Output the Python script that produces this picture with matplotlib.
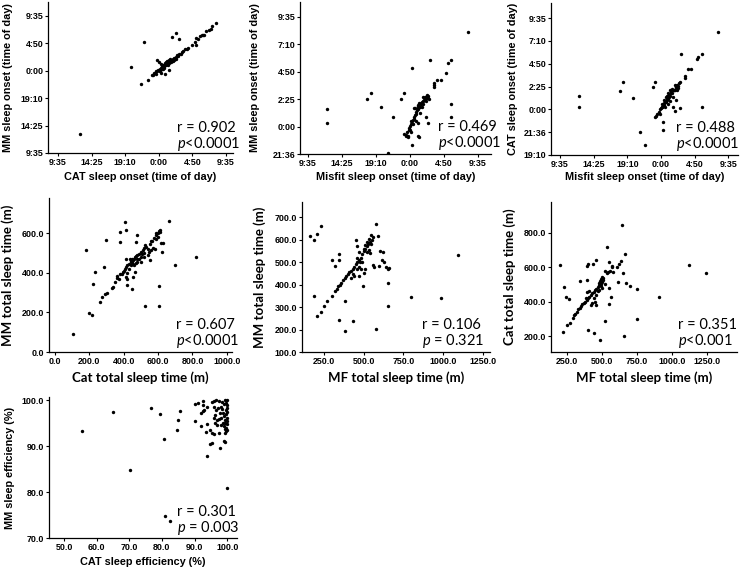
import matplotlib
matplotlib.use('Agg')
import matplotlib.pyplot as plt

plt.rcParams['font.family'] = ['Liberation Sans', 'DejaVu Sans']
plt.rcParams['mathtext.fontset'] = 'custom'
plt.rcParams['mathtext.it'] = 'Lato:italic'
plt.rcParams['mathtext.rm'] = 'Lato'

# ---- data (sleep onset in hours relative to midnight) ----
onset_ticks_24 = [-14.4, -9.6, -4.8, 0, 4.8, 9.6]
onset_labels_24 = ['9:35', '14:25', '19:10', '0:00', '4:50', '9:35']
onset_ticks_mm2 = [-2.4, 0, 2.4, 4.8, 7.2, 9.6]
onset_labels_mm2 = ['21:36', '0:00', '2:25', '4:50', '7:10', '9:35']
onset_ticks_cat3 = [-4.8, -2.4, 0, 2.4, 4.8, 7.2, 9.6]
onset_labels_cat3 = ['19:10', '21:36', '0:00', '2:25', '4:50', '7:10', '9:35']

cat_vs_mm_onset = [
    (-11.2, -11.1), (-4.0, 0.7), (-2.57, -2.3), (-2.1, 5.1), (-1.52, -1.58), (-1.0, -0.75),
    (-0.7, -0.45), (-0.5, -0.4), (-0.33, -0.12), (-0.2, -0.05), (-0.1, 0.1), (0.0, 0.2),
    (0.1, 0.05), (0.15, 0.35), (0.25, 0.3), (0.3, 0.5), (0.4, 0.45), (0.5, 0.6), (0.55, 0.4),
    (0.65, 0.75), (0.7, 0.9), (0.8, 0.8), (0.9, 1.0), (0.95, 1.15), (1.05, 0.95), (1.1, 1.2),
    (1.2, 1.35), (1.25, 1.1), (1.33, 1.46), (1.4, 1.3), (1.5, 1.6), (1.55, 1.8), (1.6, 1.5),
    (1.7, 1.75), (1.75, 1.95), (1.8, 1.6), (1.9, 1.9), (2.0, 2.05), (2.05, 1.8), (2.15, 2.2),
    (2.3, 2.3), (2.4, 2.1), (2.5, 2.5), (2.6, 2.7), (2.75, 2.6), (2.9, 2.9), (3.1, 3.0),
    (3.3, 3.3), (3.5, 3.45), (3.71, 3.8), (4.0, 3.9), (4.2, 4.05), (4.8, 4.6), (5.14, 5.13),
    (5.3, 4.5), (5.38, 5.71), (5.6, 5.5), (5.86, 6.1), (6.1, 6.2), (6.33, 6.3), (6.45, 6.35),
    (6.81, 6.9), (7.1, 7.1), (7.4, 7.4), (7.62, 7.77), (8.24, 8.34), (1.9, 5.9), (2.5, 6.6),
    (2.86, 5.55), (-0.19, 1.95), (0.0, 1.5), (0.29, 1.2), (0.38, -0.4), (0.95, -0.52),
    (1.43, 0.18), (1.1, 1.7), (1.3, 1.75), (1.6, 2.0), (0.6, 1.0), (0.85, 1.3), (0.45, 0.9),
    (-0.45, -0.6), (-0.8, -0.7), (0.2, 0.0), (1.0, 1.5), (1.45, 1.9), (2.2, 1.9), (0.75, 0.5),
]

misfit_vs_mm_onset = [
    (-11.7, 1.5), (-11.7, 0.3), (-6.0, 2.45), (-5.5, 2.9), (-4.1, 1.75), (-3.15, -2.35),
    (-2.4, 0.8), (-1.2, 2.45), (-0.9, 2.9), (0.25, 5.1), (2.85, 5.85), (5.3, 5.6), (5.8, 5.85),
    (5.1, 4.65), (8.15, 8.25), (5.8, 1.95), (5.8, 0.8), (0.25, -1.6), (1.1, -0.85), (1.3, -0.95),
    (2.6, 0.3), (2.25, 0.8), (-0.55, -0.8), (-0.8, -0.65), (-0.35, -0.95), (1.1, 0.3), (1.1, 1.8),
    (3.35, 3.85), (3.45, 3.65), (3.8, 4.1), (4.4, 4.1), (3.35, 3.5),
    (-0.6, -0.7), (-0.4, -0.5), (-0.2, -0.3), (-0.1, -0.1), (0.0, 0.05), (0.1, 0.2), (0.2, 0.45),
    (0.3, 0.3), (0.4, 0.6), (0.5, 0.8), (0.6, 0.7), (0.7, 1.0), (0.8, 1.25), (0.9, 1.1),
    (1.0, 1.45), (1.1, 1.6), (1.2, 1.5), (1.3, 1.8), (1.4, 1.7), (1.5, 1.95), (1.6, 2.05),
    (1.7, 2.15), (1.8, 2.25), (1.9, 2.0), (2.0, 2.35), (2.1, 2.45), (2.2, 2.2), (2.3, 2.55),
    (2.4, 2.5), (2.5, 2.65), (2.6, 2.5), (2.7, 2.45), (1.4, 1.2), (0.9, 0.5), (0.2, -0.5),
    (-0.3, -0.8), (0.6, 1.6), (1.15, 1.9), (1.65, 1.75), (2.05, 2.6), (2.4, 2.75), (0.45, 0.2),
    (0.75, 1.6), (1.85, 2.55), (0.0, -0.3), (1.25, 2.1),
]

misfit_vs_cat_onset = [
    (-11.7, 1.45), (-11.7, 0.3), (-5.9, 1.95), (-5.45, 2.9), (-4.05, 1.25), (-3.0, -2.4),
    (-2.3, -3.8), (-1.15, 2.4), (-0.9, 2.9), (0.3, -1.35), (0.3, -2.15), (2.85, 5.8),
    (5.1, 5.35), (5.35, 5.55), (5.85, 5.8), (8.2, 8.15), (5.85, 0.3), (2.65, 0.1), (1.75, 0.3),
    (1.95, -0.2), (2.2, 1.0), (3.4, 3.5), (3.5, 3.35), (3.85, 4.3), (4.35, 4.3), (2.55, 2.75),
    (2.7, 2.9),
    (-0.9, -0.85), (-0.7, -0.7), (-0.5, -0.5), (-0.3, -0.3), (-0.2, -0.45), (-0.1, 0.0),
    (0.0, 0.15), (0.1, 0.3), (0.2, 0.25), (0.3, 0.5), (0.4, 0.45), (0.5, 0.7), (0.6, 0.85),
    (0.7, 0.75), (0.8, 1.0), (0.9, 1.15), (1.0, 1.1), (1.1, 1.35), (1.2, 1.5), (1.3, 1.4),
    (1.4, 1.7), (1.5, 1.85), (1.6, 1.75), (1.7, 2.0), (1.8, 2.0), (1.9, 2.05), (2.0, 2.0),
    (2.1, 2.35), (2.2, 2.4), (2.3, 2.6), (2.4, 2.5), (1.0, 0.6), (1.25, 0.9), (0.7, 1.3),
    (1.55, 2.1), (1.95, 2.6), (0.1, 0.55), (0.45, 0.95), (2.25, 2.05), (1.35, 2.0),
    (0.85, 1.45), (1.65, 1.35), (0.55, 0.3), (1.05, 1.7), (2.5, 2.3),
]

# ---- total sleep time (minutes) ----
cat_vs_mm_tst = [
    (102, 93), (180, 516), (199, 199), (214, 186), (222, 341), (232, 404), (286, 431),
    (296, 563), (261, 250), (276, 276), (292, 294), (303, 299), (329, 325), (338, 330),
    (348, 355), (361, 372), (372, 370), (378, 392), (381, 604), (377, 553), (406, 654),
    (415, 614), (412, 468), (415, 377), (419, 367), (421, 338), (448, 318), (454, 380),
    (464, 406), (470, 553), (477, 592), (526, 232), (605, 335), (605, 233), (696, 440),
    (821, 478), (661, 663), (605, 609), (613, 617), (590, 600), (585, 570), (560, 558),
    (570, 524), (622, 507), (618, 549), (600, 580), (630, 550),
    (390, 395), (400, 410), (410, 420), (415, 430), (420, 440), (430, 445), (440, 455),
    (445, 460), (450, 452), (455, 465), (460, 470), (465, 478), (470, 485), (480, 490),
    (490, 495), (500, 505), (510, 515), (520, 525), (530, 530), (540, 520), (550, 545),
    (565, 560), (575, 575), (590, 590), (600, 598), (610, 605), (540, 490), (520, 480),
    (500, 480), (480, 470), (470, 450), (460, 440), (430, 420), (420, 400), (440, 440),
    (450, 470), (505, 495), (515, 500), (560, 515), (545, 505), (490, 470), (395, 405),
    (360, 385), (480, 455), (435, 470), (500, 455), (455, 445), (525, 540), (580, 520),
    (555, 465),
]

mf_vs_mm_tst = [
    (165, 614), (185, 596), (208, 624), (229, 661), (187, 347), (208, 258), (229, 278),
    (250, 303), (271, 325), (300, 347), (344, 241), (383, 192), (435, 236), (577, 202),
    (300, 507), (342, 507), (344, 537), (321, 481), (383, 325),
    (320, 370), (330, 380), (340, 392), (350, 398), (360, 405), (370, 420), (380, 430),
    (390, 440), (400, 445), (410, 455), (420, 460), (430, 470), (440, 478), (450, 490),
    (460, 500), (470, 510), (480, 520), (490, 535), (500, 550), (510, 560), (520, 570),
    (530, 580), (540, 590), (550, 600), (560, 610), (577, 669), (548, 580), (535, 555),
    (520, 545), (540, 540), (598, 484), (558, 488), (564, 480), (654, 407), (654, 303),
    (796, 344), (987, 340), (1092, 533), (494, 392), (473, 439), (500, 450), (510, 470),
    (480, 470), (470, 480), (455, 470), (440, 440), (430, 445), (420, 430), (460, 520),
    (475, 500), (490, 500), (470, 545), (600, 550), (620, 545), (615, 510), (630, 500),
    (640, 480), (650, 470), (660, 475), (500, 560), (520, 590), (510, 575), (450, 600),
    (455, 570), (531, 602), (546, 621), (587, 614),
]

mf_vs_cat_tst = [
    (197, 613), (226, 487), (245, 425), (264, 413), (221, 223), (250, 263), (269, 276),
    (292, 302), (346, 521), (394, 527), (402, 618), (396, 609), (437, 620), (456, 640),
    (640, 845), (539, 716), (664, 677), (402, 233), (444, 218), (484, 175), (520, 286),
    (549, 386), (562, 425), (549, 478), (748, 474), (748, 298), (910, 425), (1125, 614),
    (1245, 569), (657, 198), (647, 565), (675, 507), (699, 491), (616, 517), (623, 620),
    (633, 634), (604, 600),
    (300, 320), (310, 330), (320, 340), (330, 355), (340, 365), (350, 375), (360, 385),
    (370, 390), (380, 400), (390, 410), (400, 420), (410, 430), (420, 440), (430, 450),
    (440, 455), (450, 465), (460, 475), (470, 485), (480, 495), (490, 505), (500, 515),
    (505, 525), (495, 530), (485, 520), (475, 510), (510, 540), (500, 545), (490, 490),
    (480, 470), (470, 460), (455, 440), (440, 420), (430, 390), (420, 380), (410, 460),
    (395, 455), (385, 420), (450, 400), (460, 380), (500, 480), (520, 500), (535, 565),
    (545, 575), (560, 580), (575, 600), (520, 580), (550, 630), (570, 610), (580, 570),
]

# ---- sleep efficiency (%) ----
cat_vs_mm_se = [
    (55.4, 93.3), (65.1, 97.5), (70.2, 84.7), (76.7, 98.4), (79.3, 97.0), (80.5, 91.5),
    (80.8, 74.8), (82.6, 73.8), (84.6, 93.6), (84.9, 95.8), (85.6, 97.7), (90.2, 99.1),
    (91.2, 99.4), (92.5, 99.8), (92.7, 98.9), (93.8, 98.5), (91.9, 97.2), (92.5, 97.6),
    (93.0, 97.9), (95.3, 99.6), (96.0, 99.8), (96.7, 100.0), (97.5, 99.9), (98.3, 99.7),
    (96.0, 98.5), (96.5, 97.9), (96.2, 96.7), (96.0, 96.2), (96.8, 95.7), (98.0, 98.6),
    (98.4, 98.0), (98.7, 97.3), (99.0, 96.6), (99.2, 95.8), (99.4, 95.1), (99.0, 94.4),
    (99.2, 93.8), (99.7, 93.2), (98.6, 95.1), (98.1, 94.7), (90.2, 95.5), (91.9, 94.3),
    (93.8, 94.9), (93.6, 93.1), (94.8, 93.5), (95.3, 92.9), (95.8, 92.6), (96.3, 95.0),
    (96.8, 94.6), (97.6, 92.9), (99.4, 92.8), (94.6, 90.4), (95.3, 90.6), (97.9, 89.6),
    (98.9, 91.2), (99.4, 91.0), (100.0, 80.8), (93.7, 87.9), (99.6, 99.5), (99.8, 98.9),
    (99.9, 98.2), (100.0, 97.5), (99.7, 96.9), (100.0, 96.2), (99.9, 95.5), (100.0, 94.8),
    (99.5, 97.8), (98.9, 99.2), (99.3, 100.0), (100.0, 100.0), (97.2, 98.3), (97.8, 97.2),
    (98.2, 96.2), (97.4, 96.0), (99.6, 94.0), (100.0, 93.5),
]

stats = [
    ('r = 0.902', r'$\mathit{p}$<0.0001'),
    ('r = 0.469', r'$\mathit{p}$<0.0001'),
    ('r = 0.488', r'$\mathit{p}$<0.0001'),
    ('r = 0.607', r'$\mathit{p}$<0.0001'),
    ('r = 0.106', r'$\mathit{p}$ = 0.321'),
    ('r = 0.351', r'$\mathit{p}$<0.001'),
    ('r = 0.301', r'$\mathit{p}$ = 0.003'),
]

tst_ticks_a = [0, 200, 400, 600, 800, 1000]
tst_ticks_b = [250, 500, 750, 1000, 1250]
mm_tst_ticks_a = [0, 200, 400, 600]
mm_tst_ticks_b = [100, 200, 300, 400, 500, 600, 700]
cat_tst_ticks = [200, 400, 600, 800]
se_xticks = [50, 60, 70, 80, 90, 100]
se_yticks = [70, 80, 90, 100]

W, H = 740, 567
fig = plt.figure(figsize=(W / 100, H / 100), dpi=100)

ARIAL = ['Liberation Sans', 'DejaVu Sans']
CALIBRI = ['Lato', 'DejaVu Sans']


def fmt1(v):
    return '%.1f' % v


def panel(box, pts, xlim, ylim, xt, xtl, yt, ytl, xlab, ylab, fam, fsize,
          xlab_cy, ylab_cx, stat, txt_x, txt_y):
    l, t, r, b = box
    ax = fig.add_axes([l / W, 1 - b / H, (r - l) / W, (b - t) / H])
    ax.scatter([p[0] for p in pts], [p[1] for p in pts], s=6, c='black', linewidths=0)
    ax.set_xlim(*xlim)
    ax.set_ylim(*ylim)
    ax.set_xticks(xt, xtl, fontsize=6.4, fontweight='bold', family=ARIAL)
    ax.set_yticks(yt, ytl, fontsize=6.4, fontweight='bold', family=ARIAL)
    for s in ['top', 'right']:
        ax.spines[s].set_visible(False)
    for s in ['left', 'bottom']:
        ax.spines[s].set_linewidth(0.9)
    ax.tick_params(length=2, width=0.8, pad=1.5)
    ax.set_xlabel(xlab, fontsize=fsize, fontweight='bold', family=fam, va='center')
    ax.set_ylabel(ylab, fontsize=fsize, fontweight='bold', family=fam, va='center')
    ax.xaxis.set_label_coords(0.5, (b - xlab_cy) / (b - t))
    ax.yaxis.set_label_coords((ylab_cx - l) / (r - l), 0.5)
    fig.text(txt_x / W, 1 - txt_y / H, stat[0], fontsize=10.5, family=CALIBRI, va='center')
    fig.text(txt_x / W, 1 - (txt_y + 16) / H, stat[1], fontsize=10.5, family=CALIBRI, va='center')
    return ax


panel((48, 2, 233, 153), cat_vs_mm_onset, (-15.83, 10.6), (-14.4, 12.05),
      onset_ticks_24, onset_labels_24, onset_ticks_24, onset_labels_24,
      'CAT sleep onset (time of day)', 'MM sleep onset (time of day)', ARIAL, 7.8,
      177, 8, stats[0], 177, 128)

panel((300, 2, 491, 154), misfit_vs_mm_onset, (-15.53, 11.44), (-2.4, 10.9),
      onset_ticks_24, onset_labels_24, onset_ticks_mm2, onset_labels_mm2,
      'Misfit sleep onset (time of day)', 'MM sleep onset (time of day)', ARIAL, 7.8,
      177, 255, stats[1], 438, 127)

panel((551, 3, 738, 155), misfit_vs_cat_onset, (-15.7, 11.0), (-4.8, 11.2),
      onset_ticks_24, onset_labels_24, onset_ticks_cat3, onset_labels_cat3,
      'Misfit sleep onset (time of day)', 'CAT sleep onset (time of day)', ARIAL, 7.8,
      177, 513, stats[2], 676, 128)

panel((49, 198, 232, 352), cat_vs_mm_tst, (-35, 1030), (0, 777),
      tst_ticks_a, [fmt1(v) for v in tst_ticks_a], mm_tst_ticks_a, [fmt1(v) for v in mm_tst_ticks_a],
      'Cat total sleep time (m)', 'MM total sleep time (m)', CALIBRI, 9.5,
      378, 8, stats[3], 176, 325)

panel((302, 202, 490, 352), mf_vs_mm_tst, (112, 1294), (100, 767),
      tst_ticks_b, [fmt1(v) for v in tst_ticks_b], mm_tst_ticks_b, [fmt1(v) for v in mm_tst_ticks_b],
      'MF total sleep time (m)', 'MM total sleep time (m)', CALIBRI, 9.5,
      378, 260, stats[4], 422, 325)

panel((551, 202, 737, 352), mf_vs_cat_tst, (135, 1466), (107, 980),
      tst_ticks_b, [fmt1(v) for v in tst_ticks_b], cat_tst_ticks, [fmt1(v) for v in cat_tst_ticks],
      'MF total sleep time (m)', 'Cat total sleep time (m)', CALIBRI, 9.5,
      378, 510, stats[5], 678, 325)

panel((49, 397, 237, 538), cat_vs_mm_se, (45.4, 103), (70, 100.7),
      se_xticks, [fmt1(v) for v in se_xticks], se_yticks, [fmt1(v) for v in se_yticks],
      'CAT sleep efficiency (%)', 'MM sleep efficiency (%)', ARIAL, 7.8,
      562, 10, stats[6], 177, 512)

fig.savefig('out.png', dpi=100)
